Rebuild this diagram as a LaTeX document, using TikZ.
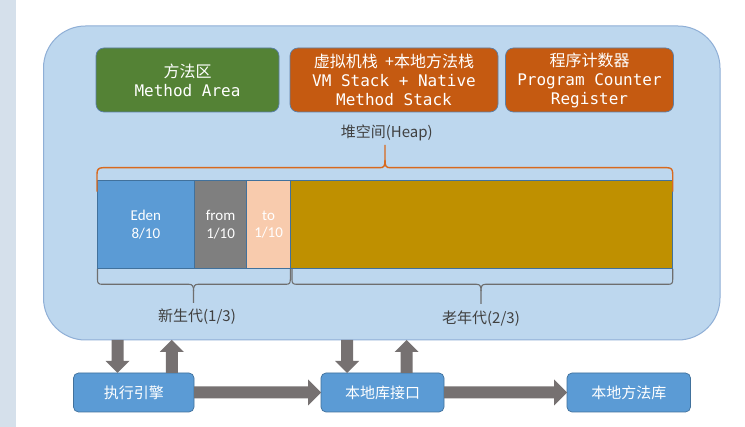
\documentclass[tikz,border=0pt]{standalone}
\usepackage{fontspec}
\setmainfont{Noto Sans CJK SC}
\newfontfamily\cjk{Noto Sans CJK SC}
\newfontfamily\monof{DejaVu Sans Mono}
\newfontfamily\calf{Carlito}
\usetikzlibrary{calc}
\definecolor{strip}{HTML}{D5E0EB}
\definecolor{jvmfill}{HTML}{BDD7EE}
\definecolor{jvmdraw}{HTML}{8FAFD6}
\definecolor{greenbox}{HTML}{548235}
\definecolor{orangebox}{HTML}{C55A11}
\definecolor{boxline}{HTML}{5A7FA8}
\definecolor{eden}{HTML}{5B9BD5}
\definecolor{fromc}{HTML}{7F7F7F}
\definecolor{toc}{HTML}{F8CBAD}
\definecolor{oldc}{HTML}{BF9000}
\definecolor{bluedraw}{HTML}{41719C}
\definecolor{bracegray}{HTML}{6E6E6E}
\definecolor{braceorange}{HTML}{D8691E}
\definecolor{arrowgray}{HTML}{767171}
\definecolor{labeltext}{HTML}{404040}
\newcommand{\fatarrow}[4]{%
  \path ($(#2)!#3!(#1)$) coordinate (fab);
  \fill[arrowgray] ($(#1)!6pt!90:(#2)$) -- ($(fab)!6pt!90:(#2)$) -- ($(fab)!#4!90:(#2)$) -- (#2)
    -- ($(fab)!#4!-90:(#2)$) -- ($(fab)!6pt!-90:(#2)$) -- ($(#1)!6pt!-90:(#2)$) -- cycle;}
\tikzset{
  topbox/.style={draw=boxline, line width=0.7pt, rounded corners=8pt, minimum height=64pt,
    inner sep=0pt, outer sep=0pt, anchor=north west, text=white, align=center,
    font=\fontsize{16}{19}\selectfont},
  seg/.style={draw=bluedraw, line width=0.6pt, minimum height=88pt, inner sep=0pt, outer sep=0pt,
    anchor=north west, text=white, align=center, font=\calf\fontsize{15}{17.5}\selectfont},
  lowbox/.style={draw=bluedraw, line width=0.7pt, fill=eden, rounded corners=5pt, minimum height=39pt,
    inner sep=0pt, outer sep=0pt, anchor=north west, text=white, font=\cjk\fontsize{15}{18}\selectfont},
  lbl/.style={text=labeltext, font=\cjk\fontsize{15}{18}\selectfont, inner sep=0pt},
  graybrace/.style={draw=bracegray, line width=1.1pt},
  orangebrace/.style={draw=braceorange, line width=1.4pt}
}
\begin{document}
\begin{tikzpicture}[x=1pt,y=-1pt]
\useasboundingbox (0,0) rectangle (745,427);
\fill[white] (0,0) rectangle (745,427);
\fill[strip] (0,0) rectangle (15.7,427);
% JVM runtime area
\node[draw=jvmdraw, fill=jvmfill, line width=1pt, rounded corners=42pt, minimum width=676.5pt,
  minimum height=314pt, inner sep=0pt, outer sep=0pt, anchor=north west] (jvm) at (43.5,26) {};
% top boxes
\node[topbox, fill=greenbox, minimum width=183pt] (ma) at (96,48)
  {{\cjk 方法区}\\{\monof Method Area}};
\node[topbox, fill=orangebox, minimum width=208pt] (vm) at (290,48)
  {{\cjk 虚拟机栈\hspace{0.45em}+本地方法栈}\\{\monof VM Stack + Native}\\{\monof Method Stack}};
\node[topbox, fill=orangebox, minimum width=168pt] (pc) at (505.5,48)
  {{\cjk 程序计数器}\\{\monof Program Counter}\\{\monof Register}};
% heap label
\node[lbl] (heap) at (386.7,133) {堆空间(Heap)};
% heap segments
\node[seg, fill=eden, minimum width=97.2pt] (eden) at (97.3,180.5) {Eden\\8/10};
\node[seg, fill=fromc, minimum width=52.2pt] (from) at (eden.north east) {from\\1/10};
\node[seg, fill=toc, minimum width=43.8pt] (to) at (from.north east) {to\\1/10};
\node[seg, fill=oldc, minimum width=382.2pt] (old) at (to.north east) {};
% orange heap brace
\draw[orangebrace] (97,191.7) -- (97,174) .. controls (97,169.5) and (98.5,167.7) .. (103,167.7)
  -- (380,167.7) .. controls (384,167.7) and (385,166) .. (385,160) -- (385,145);
\draw[orangebrace] (385,160) .. controls (385,166) and (386,167.7) .. (390,167.7)
  -- (667,167.7) .. controls (671.5,167.7) and (672.7,169.5) .. (672.7,174) -- (672.7,191.7);
% gray brace: young generation
\draw[graybrace] (97.5,269) -- (97.5,279.5) .. controls (97.5,283) and (98.5,284.3) .. (102,284.3)
  -- (189,284.3) .. controls (192.5,284.3) and (193.5,286) .. (193.5,291) -- (193.5,303);
\draw[graybrace] (193.5,291) .. controls (193.5,286) and (194.5,284.3) .. (198,284.3)
  -- (286,284.3) .. controls (289.5,284.3) and (290.3,283) .. (290.3,279.5) -- (290.3,269);
% gray brace: old generation
\draw[graybrace] (292,269) -- (292,279.5) .. controls (292,283) and (293,284.3) .. (296.5,284.3)
  -- (476.5,284.3) .. controls (480,284.3) and (481,286) .. (481,291) -- (481,304);
\draw[graybrace] (481,291) .. controls (481,286) and (482,284.3) .. (485.5,284.3)
  -- (668.5,284.3) .. controls (672,284.3) and (672.7,283) .. (672.7,279.5) -- (672.7,269);
\node[lbl] (young) at (197,317) {新生代(1/3)};
\node[lbl] (oldl) at (481,319) {老年代(2/3)};
% bottom boxes
\node[lowbox, minimum width=120.5pt] (e) at (73.5,373) {执行引擎};
\node[lowbox, minimum width=123pt] (n) at (321,373) {本地库接口};
\node[lowbox, minimum width=123.5pt] (m) at (567,373) {本地方法库};
% arrows
\fatarrow{e.east}{n.west}{13pt}{13pt}
\fatarrow{n.east}{m.west}{13pt}{13pt}
\coordinate (d1t) at ([xshift=-16.25pt]e.north);
\coordinate (d1s) at (d1t |- jvm.south);
\coordinate (u1s) at ([xshift=38pt]e.north);
\coordinate (u1t) at (u1s |- jvm.south);
\coordinate (d2t) at ([xshift=-35.5pt]n.north);
\coordinate (d2s) at (d2t |- jvm.south);
\coordinate (u2s) at ([xshift=24pt]n.north);
\coordinate (u2t) at (u2s |- jvm.south);
\fatarrow{d1s}{d1t}{12pt}{12pt}
\fatarrow{u1s}{u1t}{12pt}{12pt}
\fatarrow{d2s}{d2t}{12pt}{12pt}
\fatarrow{u2s}{u2t}{12pt}{12pt}
\end{tikzpicture}
\end{document}
